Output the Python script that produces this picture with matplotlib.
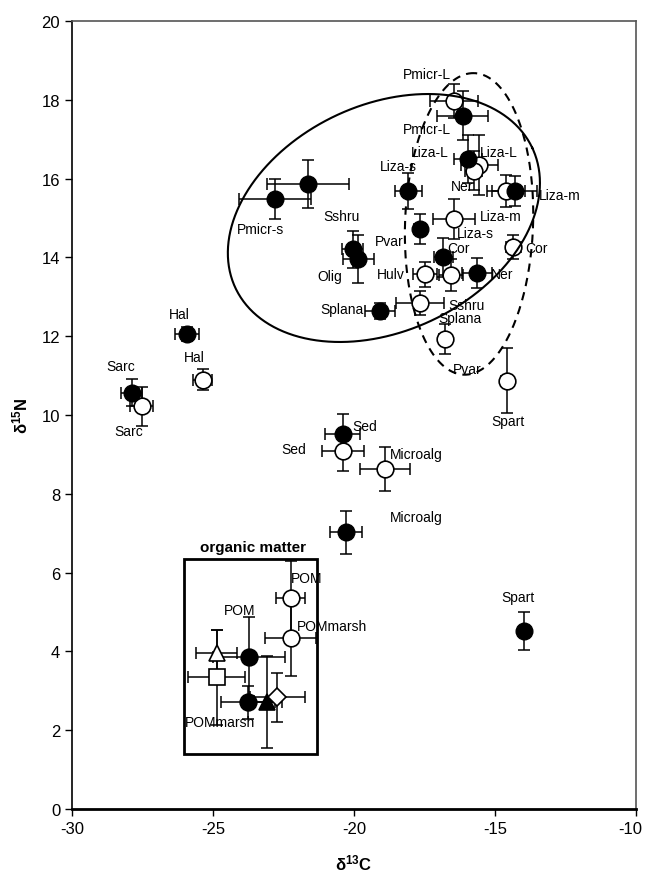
import numpy as np
import matplotlib
matplotlib.use('Agg')
import matplotlib.pyplot as plt
import matplotlib.transforms as mtransforms
from matplotlib.patches import Rectangle

plt.rcParams['font.family'] = ['Liberation Sans', 'DejaVu Sans']
plt.rcParams['mathtext.fontset'] = 'custom'
plt.rcParams['mathtext.rm'] = 'Liberation Sans'
plt.rcParams['mathtext.bf'] = 'Liberation Sans:bold'
plt.rcParams['axes.unicode_minus'] = False

# filled circles: x, y, x error, y error
filled_x = [-16.15, -15.95, -18.07, -14.30, -17.66, -16.83, -15.65, -21.62, -22.80,
            -20.05, -19.85, -19.08, -25.91, -27.88, -20.40, -20.28, -13.96]
filled_y = [17.60, 16.50, 15.69, 15.69, 14.72, 14.00, 13.60, 15.86, 15.48,
            14.21, 13.96, 12.64, 12.06, 10.57, 9.52, 7.02, 4.51]
filled_xerr = [0.89, 0.50, 0.47, 0.80, 0.20, 0.35, 0.53, 1.45, 1.27,
               0.37, 0.55, 0.53, 0.42, 0.38, 0.62, 0.56, 0.18]
filled_yerr = [0.62, 0.60, 0.45, 0.38, 0.38, 0.50, 0.38, 0.61, 0.50,
               0.47, 0.60, 0.20, 0.18, 0.35, 0.50, 0.55, 0.48]

# open circles
open_x = [-16.45, -15.55, -15.75, -14.60, -16.45, -14.35, -17.48, -16.56, -17.66,
          -16.77, -14.57, -27.53, -25.37, -20.40, -18.90, -22.25, -22.25]
open_y = [17.97, 16.35, 16.20, 15.69, 14.97, 14.27, 13.57, 13.55, 12.84,
          11.92, 10.87, 10.22, 10.90, 9.09, 8.63, 5.35, 4.33]
open_xerr = [0.85, 0.66, 0.30, 0.67, 0.74, 0.27, 0.44, 0.41, 0.86,
             0.20, 0.20, 0.41, 0.33, 0.75, 0.89, 0.53, 0.89]
open_yerr = [0.43, 0.76, 0.50, 0.40, 0.50, 0.30, 0.32, 0.40, 0.30,
             0.38, 0.82, 0.50, 0.26, 0.50, 0.57, 0.95, 0.95]

# organic matter box symbols
om_x = [-24.87, -23.72, -24.87, -23.75, -23.07, -22.72]
om_y = [3.96, 3.87, 3.34, 2.71, 2.71, 2.83]
om_xerr = [0.73, 1.28, 1.02, 0.95, 0.50, 0.97]
om_yerr = [0.59, 1.00, 1.20, 0.42, 1.17, 0.61]
om_marker = ['^', 'o', 's', 'o', '^', 'D']
om_face = ['white', 'black', 'white', 'black', 'black', 'white']
om_size = [12, 12, 12, 12, 11, 9]

labels = ['Pmicr-L', 'Pmicr-L', 'Liza-L', 'Liza-L', 'Ner', 'Liza-s', 'Liza-m', 'Liza-m',
          'Liza-s', 'Pvar', 'Cor', 'Cor', 'Hulv', 'Ner', 'Sshru', 'Splana', 'Pvar',
          'Spart', 'Microalg', 'Sshru', 'Pmicr-s', 'Olig', 'Splana', 'Hal', 'Hal',
          'Sarc', 'Sarc', 'Sed', 'Sed', 'Microalg', 'POM', 'POM', 'POMmarsh',
          'POMmarsh', 'Spart']
label_x = [-17.42, -17.42, -17.30, -14.88, -16.18, -18.43, -12.70, -14.80,
           -15.71, -18.75, -16.30, -13.52, -18.70, -14.76, -16.00, -16.24, -15.98,
           -14.55, -17.78, -20.44, -23.33, -20.85, -20.44, -26.20, -25.67,
           -28.27, -28.00, -19.61, -22.15, -17.78, -21.68, -24.04, -20.78,
           -24.75, -14.18]
label_y = [18.65, 17.26, 16.68, 16.68, 15.80, 16.31, 15.58, 15.04,
           14.62, 14.42, 14.25, 14.23, 13.58, 13.58, 12.79, 12.47, 11.17,
           9.84, 9.01, 15.04, 14.72, 13.54, 12.70, 12.56, 11.46,
           11.24, 9.60, 9.73, 9.14, 7.40, 5.86, 5.06, 4.65,
           2.20, 5.38]

# ellipses: centre, semi-axes (in x units), angle
k = 39.4 / 28.2  # y units -> x units on screen
ell_solid = (-18.94, 15.0, 5.82, 4.01, 25.3)
ell_dash = (-15.92, 14.85, 5.35, 2.27, 88.0)

fig = plt.figure(figsize=(6.46, 8.78), dpi=100)
ax = fig.add_axes([72 / 646, 1 - 810 / 878, 564 / 646, 788 / 878])

eb = dict(fmt='none', ecolor='black', elinewidth=1.1, capsize=4, capthick=1.1, zorder=2)
ax.errorbar(filled_x, filled_y, xerr=filled_xerr, yerr=filled_yerr, **eb)
ax.errorbar(open_x, open_y, xerr=open_xerr, yerr=open_yerr, **eb)
ax.errorbar(om_x, om_y, xerr=om_xerr, yerr=om_yerr, **eb)

ax.plot(open_x, open_y, 'o', ms=12, mfc='white', mec='black', mew=1.2, ls='none', zorder=3)
ax.plot(filled_x, filled_y, 'o', ms=12, mfc='black', mec='black', ls='none', zorder=4)
for x, y, m, f, s in zip(om_x, om_y, om_marker, om_face, om_size):
    ax.plot(x, y, m, ms=s, mfc=f, mec='black', mew=1.2, zorder=4)

t = np.linspace(0, 2 * np.pi, 300)
for (cx, cy, a, b, ang), ls in [(ell_solid, '-'), (ell_dash, (0, (4, 3)))]:
    th = np.radians(ang)
    u = a * np.cos(t) * np.cos(th) - b * np.sin(t) * np.sin(th)
    v = a * np.cos(t) * np.sin(th) + b * np.sin(t) * np.cos(th)
    ax.plot(cx + u, cy + v / k, color='black', lw=1.5, ls=ls, zorder=5)

ax.add_patch(Rectangle((-26.03, 1.4), 4.73, 4.95, fill=False, ec='black', lw=2, zorder=1))
ax.text(-23.58, 6.65, 'organic matter', fontsize=11, fontweight='bold', ha='center', va='center')

for s, x, y in zip(labels, label_x, label_y):
    ax.text(x, y, s, fontsize=10, ha='center', va='center', zorder=6)

ax.set_xlim(-30, -10)
ax.set_ylim(0, 20)
ax.set_xticks([-30, -25, -20, -15, -10])
ax.set_yticks(range(0, 21, 2))
ax.tick_params(direction='out', length=5, width=1, labelsize=12)
for side in ['top', 'right']:
    ax.spines[side].set_color('#555555')
    ax.spines[side].set_linewidth(1.2)
ax.spines['left'].set_linewidth(1.2)
ax.spines['bottom'].set_linewidth(2)

# keep the last x tick label inside the figure
last = ax.get_xticklabels()[-1]
last.set_transform(last.get_transform() + mtransforms.ScaledTranslation(-4 / 72, 0, fig.dpi_scale_trans))

ax.set_xlabel(r'$\mathbf{\delta^{13}C}$', fontsize=12, labelpad=12)
ax.set_ylabel(r'$\mathbf{\delta^{15}N}$', fontsize=12, labelpad=8)

fig.savefig('out.png', dpi=100)
